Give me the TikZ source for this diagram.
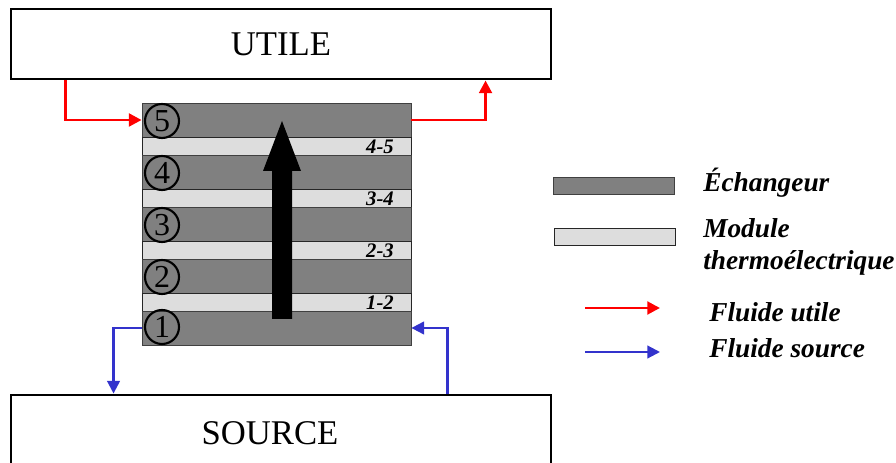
\documentclass[tikz,border=0pt]{standalone}
\usepackage{fontspec}
\setmainfont{Liberation Serif}
\usetikzlibrary{arrows.meta,calc}
\definecolor{exch}{HTML}{808080}
\definecolor{modu}{HTML}{DDDDDD}
\definecolor{fblue}{HTML}{3333CC}
\begin{document}
\begin{tikzpicture}[x=0.75pt,y=-0.75pt,
  bigbox/.style={draw=black,line width=2.2pt,fill=white,minimum width=405pt,inner sep=0pt},
  exbox/.style={draw=black!75,line width=0.6pt,fill=exch,minimum width=201.75pt,minimum height=25.5pt,inner sep=0pt},
  modbox/.style={draw=black!85,line width=0.6pt,fill=modu,minimum width=201.75pt,minimum height=13.5pt,inner sep=0pt},
  numc/.style={circle,draw=black,line width=1.6pt,minimum size=25.5pt,inner sep=0pt,font=\fontsize{24}{24}\selectfont},
  pairlab/.style={anchor=base east,inner sep=0pt,font=\fontsize{15.5}{15.5}\selectfont\bfseries\itshape},
  legtxt/.style={anchor=base west,inner sep=0pt,font=\fontsize{20.5}{20.5}\selectfont\bfseries\itshape},
  redflow/.style={draw=red,line width=2.2pt,-{Triangle[length=9.5pt,width=9.5pt]}},
  blueflow/.style={draw=fblue,line width=1.6pt,-{Triangle[length=9.5pt,width=9.5pt]}}]
\useasboundingbox (0,0) rectangle (896,463);
% big boxes
\node[bigbox,minimum height=52.5pt,font=\fontsize{26}{26}\selectfont] (utile) at (281,44) {UTILE};
\node[bigbox,minimum height=60pt] (source) at (281,435) {};
\node[inner sep=0pt,font=\fontsize{26}{26}\selectfont] (sourcelab) at (270,433) {SOURCE};
% stack
\node[exbox] (ex5) at (276.5,120) {};
\node[modbox] (m45) at (276.5,146) {};
\node[exbox] (ex4) at (276.5,172) {};
\node[modbox] (m34) at (276.5,198) {};
\node[exbox] (ex3) at (276.5,224) {};
\node[modbox] (m23) at (276.5,250) {};
\node[exbox] (ex2) at (276.5,276) {};
\node[modbox] (m12) at (276.5,302) {};
\node[exbox] (ex1) at (276.5,328) {};
% labels
\node[pairlab] (l45) at (394,154) {4-5};
\node[pairlab] (l34) at (394,206) {3-4};
\node[pairlab] (l23) at (394,258) {2-3};
\node[pairlab] (l12) at (394,310) {1-2};
\node[numc] (c5) at (162,121) {5};
\node[numc] (c4) at (162,173) {4};
\node[numc] (c3) at (162,225) {3};
\node[numc] (c2) at (162,277) {2};
\node[numc] (c1) at (162,327) {1};
% big arrow
\fill[black] (272,319) -- (272,171) -- (263,171) -- (282,121) -- (301,171) -- (292,171) -- (292,319) -- cycle;
% flows
\draw[redflow] ($(utile.south west)+(56,0)$) |- (ex5.west);
\draw[redflow] (ex5.east) -| ($(utile.south west)+(476,0)$);
\draw[blueflow] (ex1.west) -| ($(source.north west)+(104,0)$);
\draw[blueflow] ($(source.north west)+(438,0)$) |- (ex1.east);
% legend
\node[exbox,minimum width=90.75pt,minimum height=12.75pt] (legex) at (614,185.5) {};
\node[modbox,minimum width=90.75pt,minimum height=12.75pt] (legmod) at (614.5,236.5) {};
\node[legtxt] (tex) at (703,192) {Échangeur};
\node[legtxt] (tmod) at (703,238) {Module};
\node[legtxt] (tth) at (703,270) {thermoélectrique};
\coordinate (ra) at (585,308);
\coordinate (rb) at (660,308);
\coordinate (ba) at (585,352);
\coordinate (bb) at (660,352);
\draw[redflow] (ra) -- (rb);
\draw[blueflow] (ba) -- (bb);
\node[legtxt] (tfu) at (709,321) {Fluide utile};
\node[legtxt] (tfs) at (709,358) {Fluide source};
\end{tikzpicture}
\end{document}
